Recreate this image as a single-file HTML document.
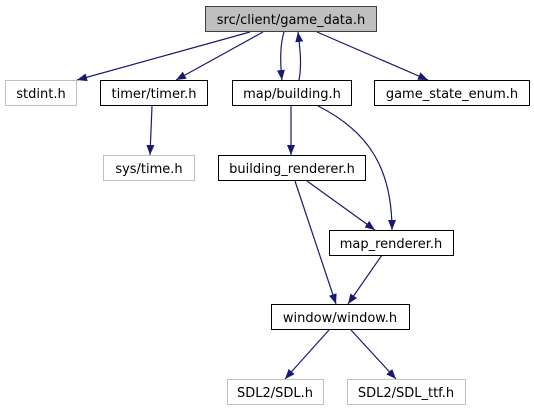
<!DOCTYPE html>
<html><head><meta charset="utf-8"><style>
html,body{margin:0;padding:0;background:#fff;}
svg{display:block;}
text{font-family:"DejaVu Sans","Liberation Sans",sans-serif;font-size:13px;text-anchor:middle;fill:#000;}
</style></head><body>
<svg width="534" height="411" viewBox="0 0 534 411" xmlns="http://www.w3.org/2000/svg">
<defs>
<marker id="a" markerUnits="userSpaceOnUse" markerWidth="12" markerHeight="10" refX="10" refY="4" orient="auto">
<path d="M0,0 L10,4 L0,8 z" fill="#191970"/>
</marker>
</defs>
<g fill="none" stroke="#191970" stroke-width="1.2" marker-end="url(#a)">
<path d="M250,32 L77,80"/>
<path d="M263,32 L176,80"/>
<path d="M284,32 C280,45 280,62 282,80"/>
<path d="M299,80 C302,65 300,48 298,32"/>
<path d="M317,32 L428,80"/>
<path d="M152,106 L150,155"/>
<path d="M291,106 L291,155"/>
<path d="M318,106 C370,132 392,170 392,230"/>
<path d="M307,181 L375,230"/>
<path d="M295,181 L336,304"/>
<path d="M382,255 L348,304"/>
<path d="M329,330 L285,379"/>
<path d="M351,330 L396,379"/>
</g>
<g stroke-width="1">
<rect x="205.5" y="6.5" width="171" height="25" fill="#bfbfbf" stroke="#404040"/>
<rect x="5.5" y="80.5" width="71" height="25" fill="#fff" stroke="#bfbfbf"/>
<rect x="100.5" y="80.5" width="107" height="25" fill="#fff" stroke="#000"/>
<rect x="232.5" y="80.5" width="119" height="25" fill="#fff" stroke="#000"/>
<rect x="374.5" y="80.5" width="155" height="25" fill="#fff" stroke="#000"/>
<rect x="103.5" y="155.5" width="91" height="25" fill="#fff" stroke="#bfbfbf"/>
<rect x="218.5" y="155.5" width="147" height="25" fill="#fff" stroke="#000"/>
<rect x="329.5" y="230.5" width="124" height="25" fill="#fff" stroke="#000"/>
<rect x="271.5" y="304.5" width="138" height="25" fill="#fff" stroke="#000"/>
<rect x="227.5" y="379.5" width="96" height="25" fill="#fff" stroke="#bfbfbf"/>
<rect x="347.5" y="379.5" width="118" height="25" fill="#fff" stroke="#bfbfbf"/>
</g>
<text x="291" y="24">src/client/game_data.h</text>
<text x="41" y="98">stdint.h</text>
<text x="154" y="98">timer/timer.h</text>
<text x="292" y="98">map/building.h</text>
<text x="452" y="98">game_state_enum.h</text>
<text x="149" y="173">sys/time.h</text>
<text x="292" y="173">building_renderer.h</text>
<text x="391" y="248">map_renderer.h</text>
<text x="340" y="322">window/window.h</text>
<text x="275" y="397">SDL2/SDL.h</text>
<text x="406" y="397">SDL2/SDL_ttf.h</text>
</svg>
</body></html>
